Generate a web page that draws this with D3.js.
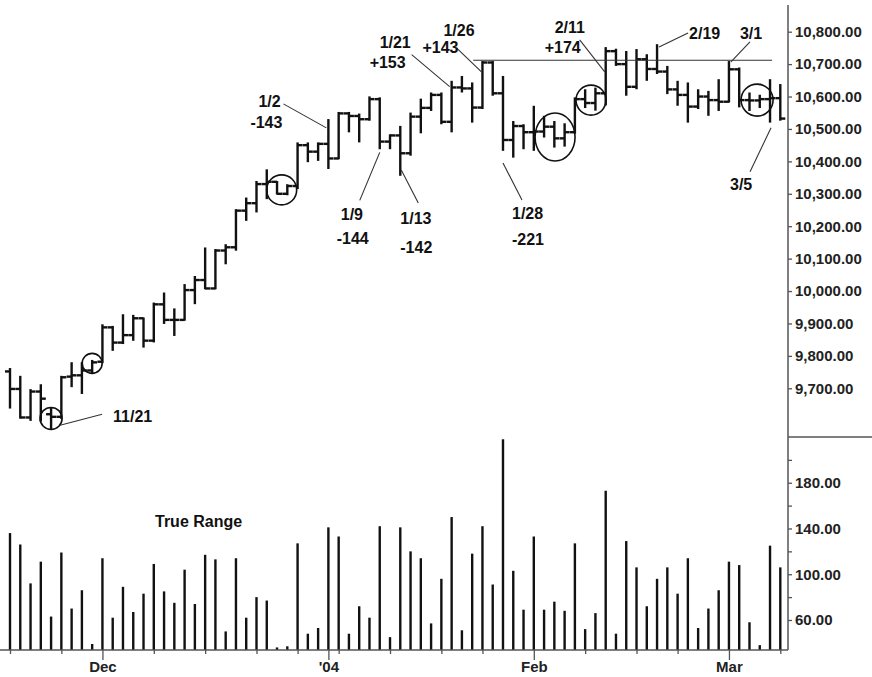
<!DOCTYPE html>
<html>
<head>
<meta charset="utf-8">
<script src="https://cdn.jsdelivr.net/npm/d3@7"></script>
<style>
  body { margin: 0; background: #fff; }
  svg text { font-family: "Liberation Sans", Arial, sans-serif; font-weight: bold; }
</style>
</head>
<body>
<div id="chart"></div>
<script>
// trading days shown on the chart
const dates = [
  "2003-11-17","2003-11-18","2003-11-19","2003-11-20","2003-11-21",
  "2003-11-24","2003-11-25","2003-11-26","2003-11-28",
  "2003-12-01","2003-12-02","2003-12-03","2003-12-04","2003-12-05",
  "2003-12-08","2003-12-09","2003-12-10","2003-12-11","2003-12-12",
  "2003-12-15","2003-12-16","2003-12-17","2003-12-18","2003-12-19",
  "2003-12-22","2003-12-23","2003-12-24","2003-12-26",
  "2003-12-29","2003-12-30","2003-12-31","2004-01-02",
  "2004-01-05","2004-01-06","2004-01-07","2004-01-08","2004-01-09",
  "2004-01-12","2004-01-13","2004-01-14","2004-01-15","2004-01-16",
  "2004-01-20","2004-01-21","2004-01-22","2004-01-23",
  "2004-01-26","2004-01-27","2004-01-28","2004-01-29","2004-01-30",
  "2004-02-02","2004-02-03","2004-02-04","2004-02-05","2004-02-06",
  "2004-02-09","2004-02-10","2004-02-11","2004-02-12","2004-02-13",
  "2004-02-17","2004-02-18","2004-02-19","2004-02-20",
  "2004-02-23","2004-02-24","2004-02-25","2004-02-26","2004-02-27",
  "2004-03-01","2004-03-02","2004-03-03","2004-03-04","2004-03-05",
  "2004-03-08"
];

const open = [
  9752, 9698, 9610, 9690, 9620, 9612, 9736, 9740, 9755,
  9782, 9888, 9841, 9864, 9916, 9847, 9959, 9911, 9911, 10003,
  10034, 10008, 10125, 10135, 10248, 10271, 10330, 10337, 10300,
  10324, 10450, 10430, 10454, 10409, 10548, 10540, 10530, 10592,
  10461, 10480, 10425, 10538, 10565, 10605, 10522, 10628, 10625,
  10566, 10705, 10610, 10466, 10509, 10490, 10492, 10507, 10471, 10490,
  10592, 10580, 10610, 10740, 10700, 10630, 10715, 10685, 10677,
  10622, 10605, 10569, 10600, 10589, 10584, 10684, 10589, 10588, 10592,
  10595
];
const high = [
  9760, 9736, 9695, 9710, 9638, 9736, 9778, 9778, 9785,
  9895, 9890, 9926, 9924, 9916, 9962, 9993, 9944, 10019, 10044,
  10132, 10127, 10142, 10250, 10286, 10337, 10373, 10337, 10327,
  10456, 10456, 10456, 10528, 10550, 10550, 10545, 10598, 10595,
  10481, 10507, 10548, 10591, 10610, 10610, 10646, 10661, 10641,
  10707, 10707, 10661, 10522, 10512, 10569, 10538, 10522, 10515, 10595,
  10620, 10625, 10750, 10745, 10738, 10744, 10728, 10759, 10692,
  10646, 10641, 10620, 10615, 10651, 10707, 10687, 10610, 10603, 10651,
  10636
];
const low = [
  9640, 9609, 9602, 9600, 9577, 9608, 9706, 9685, 9748,
  9780, 9818, 9839, 9849, 9828, 9844, 9901, 9864, 9911, 9962,
  10008, 10008, 10085, 10127, 10219, 10245, 10286, 10300, 10298,
  10317, 10400, 10404, 10379, 10409, 10492, 10461, 10528, 10440,
  10440, 10358, 10420, 10489, 10558, 10517, 10492, 10615, 10522,
  10564, 10605, 10435, 10414, 10440, 10435, 10476, 10445, 10448, 10488,
  10567, 10559, 10575, 10697, 10605, 10625, 10651, 10672, 10610,
  10574, 10522, 10564, 10543, 10558, 10584, 10569, 10558, 10567, 10522,
  10528
];
const close = [
  9698, 9610, 9690, 9668, 9612, 9734, 9740, 9755, 9780,
  9888, 9841, 9864, 9916, 9847, 9959, 9911, 9911, 10003, 10034,
  10008, 10125, 10135, 10248, 10271, 10330, 10337, 10300, 10324,
  10450, 10430, 10454, 10409, 10548, 10540, 10530, 10592, 10461,
  10480, 10425, 10538, 10565, 10605, 10522, 10628, 10625, 10566,
  10705, 10610, 10466, 10509, 10490, 10492, 10507, 10471, 10490, 10592,
  10580, 10610, 10740, 10700, 10630, 10715, 10685, 10677, 10622,
  10605, 10569, 10600, 10589, 10584, 10684, 10589, 10588, 10592, 10595,
  10532
];
const trueRange = [
  136, 126, 92, 111, 63, 119, 70, 86, 39,
  114, 62, 89, 67, 83, 109, 85, 75, 104, 74,
  117, 113, 50, 114, 62, 80, 77, 36, 37,
  127, 48, 53, 141, 133, 48, 72, 62, 142,
  45, 141, 120, 114, 57, 96, 150, 51, 118,
  142, 91, 218, 103, 69, 133, 69, 76, 68, 127,
  52, 66, 173, 48, 129, 106, 72, 96, 106,
  83, 114, 53, 70, 86, 111, 108, 58, 38, 125,
  106
];

const priceTicks = d3.range(9700, 10801, 100);
const rangeTicks = d3.range(60, 201, 20);
const monthLabels = ["Dec", "'04", "Feb", "Mar"];

// annotations: bar index, anchor (H/L), leader offsets, label texts with offsets
const notes = [
  { i: 4,  at: "L", line: [9, -3, 51, -14],   labels: [["11/21", 62, -6]] },
  { i: 31, at: "H", line: [-2, 8, -45, -16],  labels: [["1/2", -70, -13], ["-143", -78, 8]] },
  { i: 36, at: "L", line: [0, 4, -20, 52],    labels: [["1/9", -39, 72], ["-144", -43, 96]] },
  { i: 38, at: "L", line: [1, -5, 18, 28],    labels: [["1/13", 0, 49], ["-142", 0, 78]] },
  { i: 43, at: "H", line: [-2, 5, -40, -27],  labels: [["1/21", -72, -34], ["+153", -82, -14]] },
  { i: 46, at: "H", line: [-1, 10, -26, -14], labels: [["1/26", -39, -26], ["+143", -60, -9]] },
  { i: 48, at: "L", line: [0, 13, 19, 50],    labels: [["1/28", 9, 69], ["-221", 9, 95]] },
  { i: 58, at: "H", line: [-1, 24, -26, -8],  labels: [["2/11", -51, -15], ["+174", -61, 5]] },
  { i: 63, at: "H", line: [2, 2, 31, -12],    labels: [["2/19", 32, -6]] },
  { i: 70, at: "H", line: [2, 0, 21, -20],    labels: [["3/1", 11, -23]] },
  { i: 74, at: "L", line: [1, 6, -20, 50],    labels: [["3/5", -40, 68]] }
];
// circled areas: centre as bar position / price, radii in px
const circles = [
  { i: 4,     p: 9607,  rx: 11, ry: 11 },
  { i: 8,     p: 9777,  rx: 10, ry: 10 },
  { i: 26.45, p: 10312, rx: 15, ry: 15 },
  { i: 53.07, p: 10475, rx: 20, ry: 24 },
  { i: 56.57, p: 10589, rx: 15, ry: 15 },
  { i: 72.74, p: 10589, rx: 16, ry: 16 }
];
const resistance = { p: 10712, from: 45.1, to: 74.2 };

const width = 872, height = 677;
const axisX = 788, baseY = 650;
const ink = "#111";

const parse = d3.timeParse("%Y-%m-%d");
const days = dates.map(parse);
const n = days.length;

const svg = d3.select("#chart").append("svg")
  .attr("width", width)
  .attr("height", height);

const x = d3.scaleLinear().domain([0, n - 1]).range([10, 780.3]);
const yP = d3.scaleLinear().domain([9700, 10800]).range([388.3, 31.7]);
const yT = d3.scaleLinear().domain([33.75, 220]).range([baseY, 437]);

const idx = d3.range(n);

// price bars
const bars = svg.append("g")
  .attr("stroke", ink)
  .attr("stroke-width", 2.4);

bars.selectAll("line.hl").data(idx).join("line")
  .attr("class", "hl")
  .attr("x1", i => x(i)).attr("x2", i => x(i))
  .attr("y1", i => yP(high[i]) - 0.8).attr("y2", i => yP(low[i]) + 0.8);

bars.selectAll("line.op").data(idx).join("line")
  .attr("class", "op")
  .attr("x1", i => x(i) - 5).attr("x2", i => x(i))
  .attr("y1", i => yP(open[i])).attr("y2", i => yP(open[i]));

bars.selectAll("line.cl").data(idx).join("line")
  .attr("class", "cl")
  .attr("x1", i => x(i)).attr("x2", i => x(i) + 5)
  .attr("y1", i => yP(close[i])).attr("y2", i => yP(close[i]));

// true range bars
svg.append("g")
  .attr("stroke", ink)
  .attr("stroke-width", 2.4)
  .selectAll("line").data(idx).join("line")
  .attr("x1", i => x(i)).attr("x2", i => x(i))
  .attr("y1", baseY).attr("y2", i => yT(trueRange[i]));

svg.append("text")
  .attr("x", 155).attr("y", 527)
  .attr("font-size", 16)
  .attr("fill", ink)
  .text("True Range");

// right axes
const axisColor = "#555";
const styleAxis = g => {
  g.select(".domain").remove();
  g.selectAll(".tick line").attr("stroke", axisColor).attr("stroke-width", 1.3);
  g.selectAll(".tick text")
    .attr("fill", "#222")
    .attr("font-size", 15)
    .attr("font-family", "\"Liberation Sans\", Arial, sans-serif")
    .attr("font-weight", "bold");
};

svg.append("g")
  .attr("transform", `translate(${axisX},0)`)
  .call(d3.axisRight(yP).tickValues(priceTicks).tickSize(4).tickPadding(3)
    .tickFormat(d3.format(",.2f")))
  .call(styleAxis);

svg.append("g")
  .attr("transform", `translate(${axisX},0)`)
  .call(d3.axisRight(yT).tickValues(rangeTicks).tickSize(4).tickPadding(3)
    .tickFormat(d => d % 40 === 20 ? d3.format(".2f")(d) : ""))
  .call(styleAxis);

svg.append("line")
  .attr("x1", axisX).attr("x2", axisX)
  .attr("y1", 5).attr("y2", baseY)
  .attr("stroke", axisColor).attr("stroke-width", 1.5);

svg.append("line")
  .attr("x1", axisX).attr("x2", width)
  .attr("y1", 437).attr("y2", 437)
  .attr("stroke", axisColor).attr("stroke-width", 1.5);

// bottom axis: week ticks and month ticks
const weekStarts = idx.filter(i => i === 0 ||
  +d3.timeMonday.floor(days[i]) !== +d3.timeMonday.floor(days[i - 1]));
const monthStarts = idx.filter(i => i > 0 && days[i].getMonth() !== days[i - 1].getMonth());

svg.append("g")
  .attr("transform", `translate(0,${baseY})`)
  .call(d3.axisBottom(x).tickValues(weekStarts.filter(i => !monthStarts.includes(i)))
    .tickSize(4).tickFormat(""))
  .call(styleAxis);

svg.append("g")
  .attr("transform", `translate(0,${baseY})`)
  .call(d3.axisBottom(x).tickValues(monthStarts).tickSize(10).tickPadding(1)
    .tickFormat((d, k) => monthLabels[k]))
  .call(styleAxis);

svg.append("line")
  .attr("x1", 0).attr("x2", axisX)
  .attr("y1", baseY).attr("y2", baseY)
  .attr("stroke", axisColor).attr("stroke-width", 1.5);

// resistance line
svg.append("line")
  .attr("x1", x(resistance.from)).attr("x2", x(resistance.to))
  .attr("y1", yP(resistance.p)).attr("y2", yP(resistance.p))
  .attr("stroke", "#333").attr("stroke-width", 1.2);

// circles
svg.append("g")
  .selectAll("ellipse").data(circles).join("ellipse")
  .attr("cx", d => x(d.i)).attr("cy", d => yP(d.p))
  .attr("rx", d => d.rx).attr("ry", d => d.ry)
  .attr("fill", "none").attr("stroke", ink).attr("stroke-width", 1.6);

// annotations
const ann = svg.append("g");
notes.forEach(nt => {
  const bx = x(nt.i);
  const by = yP(nt.at === "H" ? high[nt.i] : low[nt.i]);
  ann.append("line")
    .attr("x1", bx + nt.line[0]).attr("y1", by + nt.line[1])
    .attr("x2", bx + nt.line[2]).attr("y2", by + nt.line[3])
    .attr("stroke", "#333").attr("stroke-width", 1.1);
  nt.labels.forEach(([t, dx, dy]) => {
    ann.append("text")
      .attr("x", bx + dx).attr("y", by + dy)
      .attr("font-size", 16)
      .attr("fill", ink)
      .text(t);
  });
});
</script>
</body>
</html>
